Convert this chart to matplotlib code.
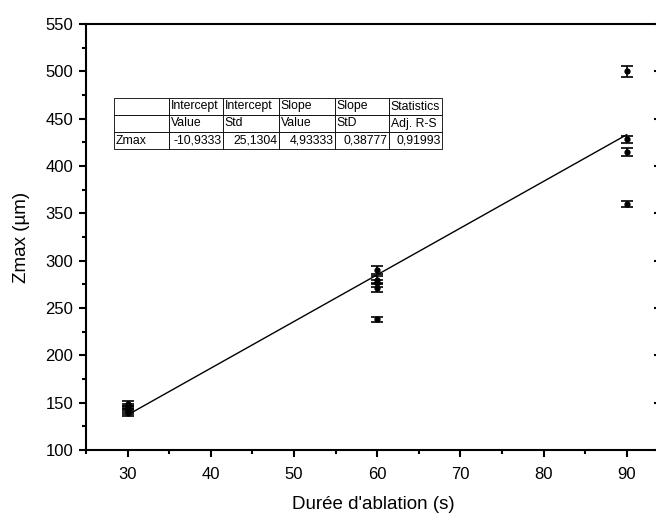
import numpy as np
import matplotlib
matplotlib.use("Agg")
import matplotlib.pyplot as plt
from matplotlib.ticker import MultipleLocator

plt.rcParams['font.family'] = ['Liberation Sans', 'DejaVu Sans']

# measured points: ablation time (s), Zmax (um), error
duree = [30, 30, 30, 30, 30,
         60, 60, 60, 60, 60,
         90, 90, 90, 90]
zmax = [149, 146, 143, 141, 139,
        290, 280, 276, 271, 238,
        500, 428, 415, 360]
err = [3, 3, 3, 3, 3,
       4, 4, 4, 4, 3,
       6, 4, 4, 3]

# linear fit results (from the table)
intercept = -10.9333
slope = 4.93333
fit_x = [30, 90]

col_header1 = ["", "Intercept", "Intercept", "Slope", "Slope", "Statistics"]
col_header2 = ["", "Value", "Std", "Value", "StD", "Adj. R-S"]
row_zmax = ["Zmax", "-10,9333", "25,1304", "4,93333", "0,38777", "0,91993"]

fig = plt.figure(figsize=(6.56, 5.16), dpi=100)
ax = fig.add_axes([86 / 656, 66 / 516, 574 / 656, 426 / 516])

ax.errorbar(duree, zmax, yerr=err, fmt='o', color='black', ms=3.5,
            ecolor='black', elinewidth=1.2, capsize=4, capthick=1.2)
fx = np.array(fit_x)
ax.plot(fx, intercept + slope * fx, color='black', lw=1)

ax.set_xlim(25, 94)
ax.set_ylim(100, 550)
ax.xaxis.set_major_locator(MultipleLocator(10))
ax.xaxis.set_minor_locator(MultipleLocator(5))
ax.yaxis.set_major_locator(MultipleLocator(50))
ax.yaxis.set_minor_locator(MultipleLocator(25))
ax.tick_params(which='major', direction='out', length=5, width=1.5,
               labelsize=12, pad=4)
ax.tick_params(axis='x', which='major', pad=7)
ax.tick_params(which='minor', direction='out', length=3, width=1.5)
for s in ax.spines.values():
    s.set_linewidth(1.5)

# right axis: inward major ticks only (spine falls just outside the image)
ax2 = ax.twinx()
ax2.set_ylim(ax.get_ylim())
ax2.yaxis.set_major_locator(MultipleLocator(50))
ax2.tick_params(axis='y', direction='in', length=4, width=1.5,
                labelright=False)
for s in ax2.spines.values():
    s.set_visible(False)

ax.set_xlabel("Durée d'ablation (s)", fontsize=13.5, labelpad=10)
ax.set_ylabel("Zmax (µm)", fontsize=13.5, labelpad=11)

# fit table
cells = [col_header1, col_header2, row_zmax]
tab = ax.table(cellText=cells, cellLoc='left',
               bbox=[(114 - 86) / 574, (450 - 149) / 426,
                     (442 - 114) / 574, 51 / 426],
               colWidths=[55, 54, 56, 56, 54, 53])
tab.auto_set_font_size(False)
tab.set_fontsize(8.8)
for (r, c), cell in tab.get_celld().items():
    cell.set_linewidth(0.6)
    cell.PAD = 0.03
    if r == 2 and c > 0:
        cell._loc = 'right'
        cell.get_text().set_horizontalalignment('right')

fig.savefig("out.png", dpi=100)
